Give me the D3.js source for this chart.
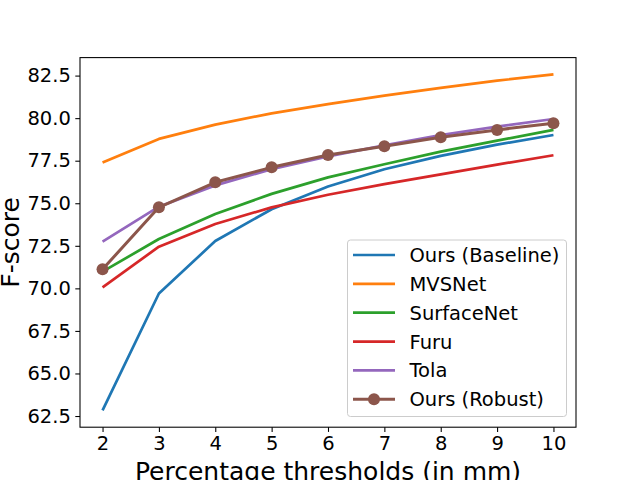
<!DOCTYPE html>
<html>
<head>
<meta charset="utf-8">
<script src="https://cdn.jsdelivr.net/npm/d3@7"></script>
<style>
  body { margin: 0; background: #fff; }
  svg { font-family: "DejaVu Sans", sans-serif; }
</style>
</head>
<body>
<svg id="chart" width="640" height="480"></svg>
<script>
// values
const thresholds = [2, 3, 4, 5, 6, 7, 8, 9, 10];
const oursBaseline = [62.83, 69.7, 72.78, 74.65, 75.98, 77.0, 77.78, 78.44, 79.01];
const mvsnet = [77.39, 78.78, 79.62, 80.28, 80.82, 81.32, 81.78, 82.2, 82.57];
const surfacenet = [70.98, 72.9, 74.37, 75.55, 76.52, 77.29, 78.03, 78.68, 79.31];
const furu = [70.06, 72.45, 73.78, 74.76, 75.5, 76.12, 76.7, 77.27, 77.82];
const tola = [72.74, 74.8, 76.05, 77.0, 77.75, 78.4, 79.0, 79.5, 79.95];
const oursRobust = [71.12, 74.76, 76.23, 77.11, 77.84, 78.35, 78.88, 79.31, 79.7];
const yTicks = [62.5, 65.0, 67.5, 70.0, 72.5, 75.0, 77.5, 80.0, 82.5];

const series = [
  { name: "Ours (Baseline)", values: oursBaseline, color: "#1f77b4" },
  { name: "MVSNet", values: mvsnet, color: "#ff7f0e" },
  { name: "SurfaceNet", values: surfacenet, color: "#2ca02c" },
  { name: "Furu", values: furu, color: "#d62728" },
  { name: "Tola", values: tola, color: "#9467bd" },
  { name: "Ours (Robust)", values: oursRobust, color: "#8c564b", marker: true }
];

const svg = d3.select("#chart");
const plotLeft = 80, plotRight = 576, plotTop = 57.6, plotBottom = 427.2;

// matplotlib style 5% margins around the data
function padded(lo, hi) {
  const m = (hi - lo) * 0.05;
  return [lo - m, hi + m];
}
const allVals = series.flatMap(s => s.values);
const x = d3.scaleLinear()
  .domain(padded(d3.min(thresholds), d3.max(thresholds)))
  .range([plotLeft, plotRight]);
const y = d3.scaleLinear()
  .domain(padded(d3.min(allVals), d3.max(allVals)))
  .range([plotBottom, plotTop]);

// axes
const xAxis = d3.axisBottom(x).tickValues(thresholds).tickSize(4.7).tickPadding(4.5)
  .tickFormat(d3.format("d"));
const yAxis = d3.axisLeft(y).tickValues(yTicks).tickSize(4.7).tickPadding(4.5)
  .tickFormat(d3.format(".1f"));

const gx = svg.append("g").attr("transform", `translate(0,${plotBottom})`).call(xAxis);
const gy = svg.append("g").attr("transform", `translate(${plotLeft},0)`).call(yAxis);
[gx, gy].forEach(g => {
  g.select(".domain").remove();
  g.selectAll(".tick line").attr("stroke", "#000").attr("stroke-width", 1.07);
  g.selectAll(".tick text").attr("fill", "#000")
    .style("font-size", "19.5px").style("font-family", "DejaVu Sans");
});

// plot lines
const line = d3.line()
  .x((d, i) => x(thresholds[i]))
  .y(d => y(d));

series.forEach(s => {
  svg.append("path")
    .datum(s.values)
    .attr("d", line)
    .attr("fill", "none")
    .attr("stroke", s.color)
    .attr("stroke-width", s.marker ? 3 : 2.7)
    .attr("stroke-linejoin", "round")
    .attr("stroke-linecap", "butt");
  if (s.marker) {
    svg.append("g").selectAll("circle")
      .data(s.values).enter()
      .append("circle")
      .attr("cx", (d, i) => x(thresholds[i]))
      .attr("cy", d => y(d))
      .attr("r", 6)
      .attr("fill", s.color);
  }
});

// frame
svg.append("rect")
  .attr("x", plotLeft).attr("y", plotTop)
  .attr("width", plotRight - plotLeft).attr("height", plotBottom - plotTop)
  .attr("fill", "none").attr("stroke", "#000").attr("stroke-width", 1.07);

// axis labels
svg.append("text")
  .attr("x", (plotLeft + plotRight) / 2).attr("y", 479.5)
  .attr("text-anchor", "middle")
  .style("font-size", "25px")
  .text("Percentage thresholds (in mm)");

svg.append("text")
  .attr("transform", `translate(18.5,${(plotTop + plotBottom) / 2}) rotate(-90)`)
  .attr("text-anchor", "middle")
  .style("font-size", "25px")
  .text("F-score");

// legend
const legend = svg.append("g");
legend.append("rect")
  .attr("x", 347.5).attr("y", 240)
  .attr("width", 219).attr("height", 176.5)
  .attr("rx", 3).attr("ry", 3)
  .attr("fill", "#fff").attr("fill-opacity", 0.8)
  .attr("stroke", "#ccc").attr("stroke-width", 1);

const rowY = d3.scaleLinear().domain([0, 5]).range([255, 399.3]);
series.forEach((s, i) => {
  const cy = rowY(i);
  legend.append("line")
    .attr("x1", 353).attr("x2", 395)
    .attr("y1", cy).attr("y2", cy)
    .attr("stroke", s.color)
    .attr("stroke-width", s.marker ? 3 : 2.7);
  if (s.marker) {
    legend.append("circle")
      .attr("cx", 374).attr("cy", cy).attr("r", 6)
      .attr("fill", s.color);
  }
  legend.append("text")
    .attr("x", 409.5).attr("y", cy)
    .attr("dy", "0.36em")
    .style("font-size", "19.5px")
    .text(s.name);
});
</script>
</body>
</html>
